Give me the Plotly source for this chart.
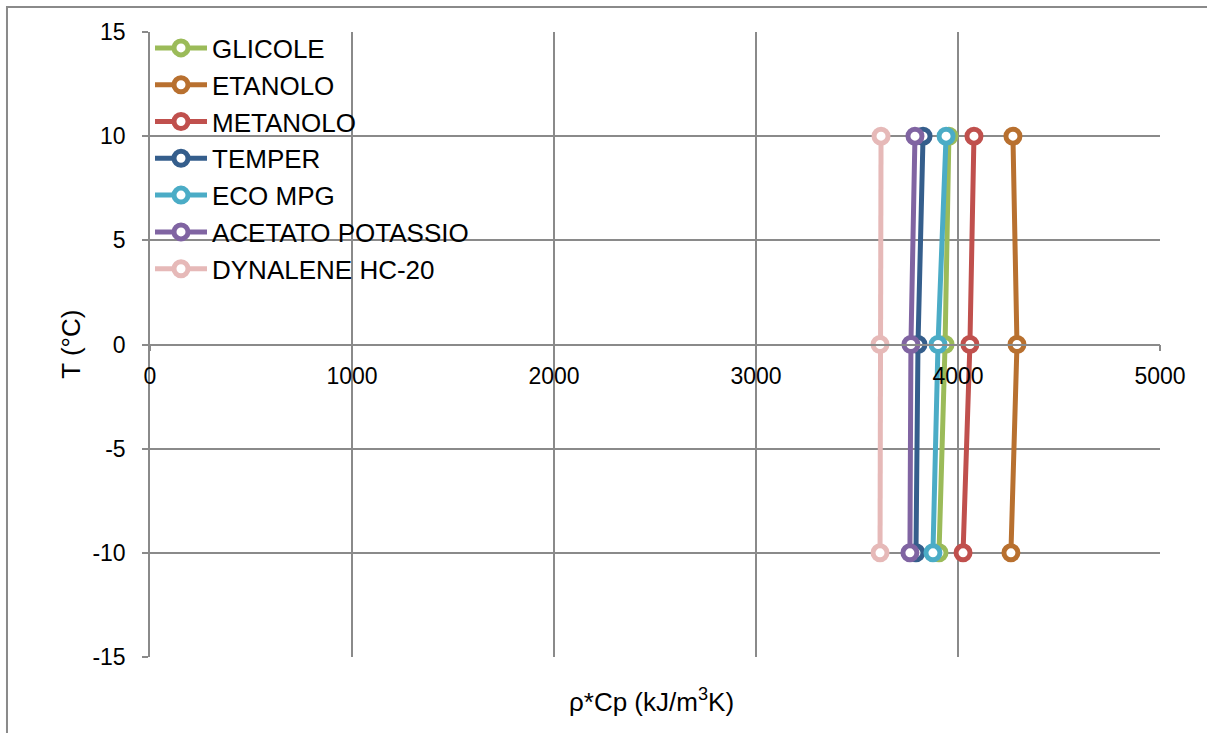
import plotly.graph_objects as go

temps = [10, 0, -10]
series_names = ["GLICOLE", "ETANOLO", "METANOLO", "TEMPER", "ECO MPG",
                "ACETATO POTASSIO", "DYNALENE HC-20"]
glicole = [3955, 3936, 3906]
etanolo = [4272, 4292, 4262]
metanolo = [4079, 4059, 4025]
temper = [3827, 3802, 3792]
eco_mpg = [3941, 3901, 3876]
acetato = [3787, 3767, 3762]
dynalene = [3619, 3614, 3614]
x_ticks = [0, 1000, 2000, 3000, 4000, 5000]
y_ticks = [-15, -10, -5, 0, 5, 10, 15]

values = [glicole, etanolo, metanolo, temper, eco_mpg, acetato, dynalene]
colors = ["#9BBB59", "#B8702F", "#C0504D", "#355E8C", "#4BACC6", "#8064A2", "#E6B9B8"]

FONT = "Arial, Liberation Sans, sans-serif"
GRID = "#8a8a8a"

fig = go.Figure()
for name, vals, col in zip(series_names, values, colors):
    fig.add_trace(go.Scatter(
        x=vals, y=temps, name=name, mode="lines+markers",
        line=dict(color=col, width=5),
        marker=dict(symbol="circle", size=14, color="white",
                    line=dict(color=col, width=5)),
    ))

fig.update_layout(
    width=1207, height=733,
    margin=dict(l=150, r=47, t=32, b=76),
    paper_bgcolor="white", plot_bgcolor="white",
    font=dict(family=FONT, size=23, color="black"),
    showlegend=True,
    legend=dict(x=0.0, y=1.012, xanchor="left", yanchor="top",
                bgcolor="rgba(0,0,0,0)", font=dict(size=26, color="black"),
                tracegroupgap=0, itemwidth=52),
    xaxis=dict(range=[0, 5000], tickvals=x_ticks, ticktext=[str(v) for v in x_ticks],
               showgrid=True, gridcolor=GRID, gridwidth=1.5,
               zeroline=False, showline=True, linecolor=GRID, linewidth=1.5,
               ticks="outside", ticklen=6, tickcolor=GRID, tickwidth=1.5,
               ticklabelstandoff=5,
               anchor="free", position=0.5,
               tickfont=dict(size=23, family=FONT, color="black")),
    yaxis=dict(range=[-15, 15], tickvals=y_ticks, ticktext=[str(v) for v in y_ticks],
               showgrid=True, gridcolor=GRID, gridwidth=1.5,
               zeroline=False, showline=True, linecolor=GRID, linewidth=1.5,
               ticks="outside", ticklen=6, tickcolor=GRID, tickwidth=1.5,
               ticklabelstandoff=12,
               tickfont=dict(size=23, family=FONT, color="black")),
    annotations=[
        dict(text="ρ*Cp (kJ/m<sup>3</sup>K)", xref="paper", yref="paper",
             x=0.497, y=-0.069, xanchor="center", yanchor="middle",
             showarrow=False, font=dict(size=26, family=FONT, color="black")),
        dict(text="T (°C)", xref="paper", yref="paper", textangle=-90,
             x=-0.079, y=0.5, xanchor="center", yanchor="middle",
             showarrow=False, font=dict(size=26, family=FONT, color="black")),
    ],
    shapes=[
        dict(type="rect", xref="paper", yref="paper",
             x0=-0.1416, y0=-0.2, x1=1.2, y1=1.04,
             line=dict(color="#8a8a8a", width=2), layer="below"),
    ],
)

fig.write_html("out.html")
